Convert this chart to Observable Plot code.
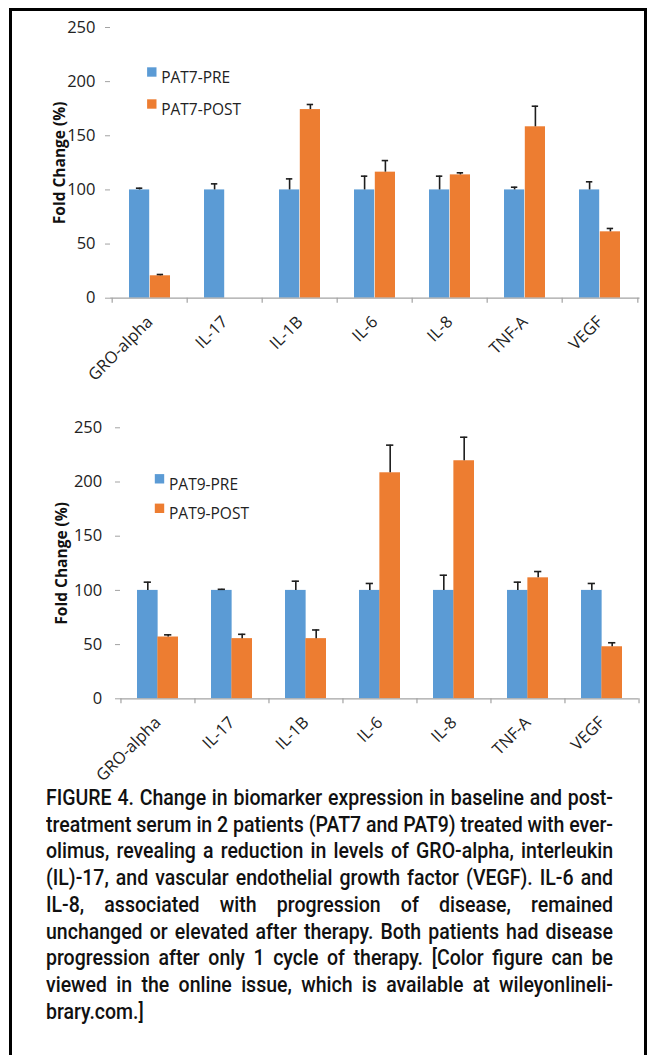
<!DOCTYPE html>
<html>
<head>
<meta charset="utf-8">
<script src="https://cdn.jsdelivr.net/npm/d3@7"></script>
<script src="https://cdn.jsdelivr.net/npm/@observablehq/plot@0.6"></script>
<style>
  html, body { margin: 0; padding: 0; background: #fff; }
  #page { position: relative; width: 649px; height: 1055px; overflow: hidden; background: #fff; }
  #frame { position: absolute; left: 9px; top: 8px; width: 638px; height: 1100px; box-sizing: border-box;
           border: 3px solid #000; border-bottom: none; }
  #c1 { position: absolute; left: 0; top: 0; }
  #c2 { position: absolute; left: 0; top: 400px; }
  #cap { position: absolute; left: 45.5px; top: 785px; width: 567px; }
  #capInner { position: absolute; left: 0; top: 0; transform-origin: 0 0; white-space: nowrap;
              font-family: Roboto, "Liberation Sans", Arial, sans-serif; font-weight: 500;
              font-size: 22px; line-height: 26.7px; color: #111; }
  #capInner div { text-align: justify; text-align-last: justify; }
  #capInner div.last { text-align-last: left; }
</style>
</head>
<body>
<div id="page">
  <div id="frame"></div>
  <div id="c1"></div>
  <div id="c2"></div>
  <div id="cap"><div id="capInner"></div></div>
</div>
<script>
// ---------- data ----------
const categories = ["GRO-alpha", "IL-17", "IL-1B", "IL-6", "IL-8", "TNF-A", "VEGF"];
const yTicks = [0, 50, 100, 150, 200, 250];

const pat7Pre     = [100, 100, 100, 100, 100, 100, 100];
const pat7PreErr  = [1.6, 5.6, 10.2, 12.7, 12.7, 2.5, 7.5];
const pat7Post    = [20.7, null, 174.2, 116.4, 113.9, 158.3, 61.3];
const pat7PostErr = [1.2, null, 4.7, 10.7, 1.9, 19.0, 3.1];

const pat9Pre     = [100, 100, 100, 100, 100, 100, 100];
const pat9PreErr  = [7.6, 1.0, 8.5, 6.4, 14.0, 7.6, 6.4];
const pat9Post    = [57.0, 55.5, 55.5, 208.5, 219.6, 111.6, 48.0];
const pat9PostErr = [2.0, 4.0, 8.0, 25.5, 21.7, 5.8, 3.7];

const seriesColors = ["#5B9BD5", "#ED7D31"];
const yLabel = "Fold Change (%)";

const captionLines = [
  "FIGURE 4. Change in biomarker expression in baseline and post-",
  "treatment serum in 2 patients (PAT7 and PAT9) treated with ever-",
  "olimus, revealing a reduction in levels of GRO-alpha, interleukin",
  "(IL)-17, and vascular endothelial growth factor (VEGF). IL-6 and",
  "IL-8, associated with progression of disease, remained",
  "unchanged or elevated after therapy. Both patients had disease",
  "progression after only 1 cycle of therapy. [Color figure can be",
  "viewed in the online issue, which is available at wileyonlineli-",
  "brary.com.]"
];

// ---------- helpers ----------
function rows(vals, errs) {
  return categories
    .map((c, i) => ({category: c, value: vals[i], upper: vals[i] == null ? null : vals[i] + errs[i]}))
    .filter(d => d.value != null);
}

const axisGray = "#a3a3a3";
const errColor = "#1e1e1e";

function chart(o) {
  const W = 649;
  const plotW = W - o.marginLeft - o.marginRight;
  const step = plotW / categories.length;
  const bw = step * 0.55;
  const half = bw / 2;
  const capW = 7;
  const capInset = (bw - capW) / 2;
  const preRows = rows(o.pre, o.preErr);
  const postRows = rows(o.post, o.postErr);
  return Plot.plot({
    width: W,
    height: o.height,
    marginLeft: o.marginLeft,
    marginRight: o.marginRight,
    marginTop: o.marginTop,
    marginBottom: o.marginBottom,
    style: {fontFamily: "'Open Sans', sans-serif", fontSize: "16px", color: "#222", background: "transparent", overflow: "visible"},
    x: {type: "band", domain: categories, paddingInner: 0.45, paddingOuter: 0.225},
    y: {domain: [0, 250]},
    marks: [
      Plot.barY(preRows, {x: "category", y: "value", fill: seriesColors[0], insetRight: half}),
      Plot.barY(postRows, {x: "category", y: "value", fill: seriesColors[1], insetLeft: half}),
      Plot.ruleX(preRows, {x: "category", y1: "value", y2: "upper", dx: -half / 2, stroke: errColor, strokeWidth: 1.6}),
      Plot.tickY(preRows, {x: "category", y: "upper", dx: -half / 2, insetLeft: capInset, insetRight: capInset, stroke: errColor, strokeWidth: 1.6}),
      Plot.ruleX(postRows, {x: "category", y1: "value", y2: "upper", dx: half / 2, stroke: errColor, strokeWidth: 1.6}),
      Plot.tickY(postRows, {x: "category", y: "upper", dx: half / 2, insetLeft: capInset, insetRight: capInset, stroke: errColor, strokeWidth: 1.6}),
      Plot.ruleY([0], {stroke: axisGray, strokeWidth: 1.2}),
      Plot.ruleX(categories, {x: d => d, y1: 0, y2: 0, dx: -step / 2, insetBottom: -5, stroke: axisGray, strokeWidth: 1.2}),
      Plot.ruleX(categories.slice(-1), {x: d => d, y1: 0, y2: 0, dx: step / 2, insetBottom: -5, stroke: axisGray, strokeWidth: 1.2}),
      Plot.axisY({ticks: yTicks, tickSize: 5, tickPadding: o.yTickPadding, stroke: axisGray, line: true, label: null, fill: "#222", fontSize: 16.5}),
      Plot.axisX({tickSize: 0, tickRotate: -45, tickPadding: o.xTickPadding, label: null, fill: "#222", fontSize: 16.5}),
      Plot.text([yLabel], {text: d => d, frameAnchor: "left", textAnchor: "middle", dx: o.yLabelDx, rotate: -90, fontWeight: "bold", fontSize: 15.5, fill: "#111"}),
      Plot.dot([o.preLabel], {frameAnchor: "top-left", dx: o.legendDx, dy: o.legendDy1, symbol: "square", r: 5.3, fill: seriesColors[0], stroke: "none"}),
      Plot.text([o.preLabel], {text: d => d, frameAnchor: "top-left", dx: o.legendTextDx, dy: o.legendDy1, textAnchor: "start", fill: "#222", fontSize: 15.5}),
      Plot.dot([o.postLabel], {frameAnchor: "top-left", dx: o.legendDx, dy: o.legendDy2, symbol: "square", r: 5.3, fill: seriesColors[1], stroke: "none"}),
      Plot.text([o.postLabel], {text: d => d, frameAnchor: "top-left", dx: o.legendTextDx, dy: o.legendDy2, textAnchor: "start", fill: "#222", fontSize: 15.5})
    ]
  });
}

document.getElementById("c1").append(chart({
  pre: pat7Pre, preErr: pat7PreErr, post: pat7Post, postErr: pat7PostErr,
  preLabel: "PAT7-PRE", postLabel: "PAT7-POST",
  height: 390, marginLeft: 110, marginRight: 9.5, marginTop: 27, marginBottom: 92.3,
  yTickPadding: 10, xTickPadding: 21, yLabelDx: -50,
  legendDx: 41.3, legendTextDx: 50.7, legendDy1: 44.5, legendDy2: 76.5
}));

document.getElementById("c2").append(chart({
  pre: pat9Pre, preErr: pat9PreErr, post: pat9Post, postErr: pat9PostErr,
  preLabel: "PAT9-PRE", postLabel: "PAT9-POST",
  height: 385, marginLeft: 120, marginRight: 10.5, marginTop: 27.3, marginBottom: 86.7,
  yTickPadding: 13.3, xTickPadding: 21, yLabelDx: -58.3,
  legendDx: 39, legendTextDx: 48.5, legendDy1: 51, legendDy2: 80.5
}));

// ---------- caption ----------
const inner = document.getElementById("capInner");
const spans = captionLines.map((t, i) => {
  const div = document.createElement("div");
  if (i === captionLines.length - 1) div.className = "last";
  const s = document.createElement("span");
  s.textContent = t;
  div.append(s);
  inner.append(div);
  return s;
});
let maxW = 0;
spans.forEach((s, i) => { if (i < spans.length - 1) maxW = Math.max(maxW, s.getBoundingClientRect().width); });
inner.style.width = maxW + "px";
inner.style.transform = `scaleX(${567 / maxW})`;
</script>
</body>
</html>
